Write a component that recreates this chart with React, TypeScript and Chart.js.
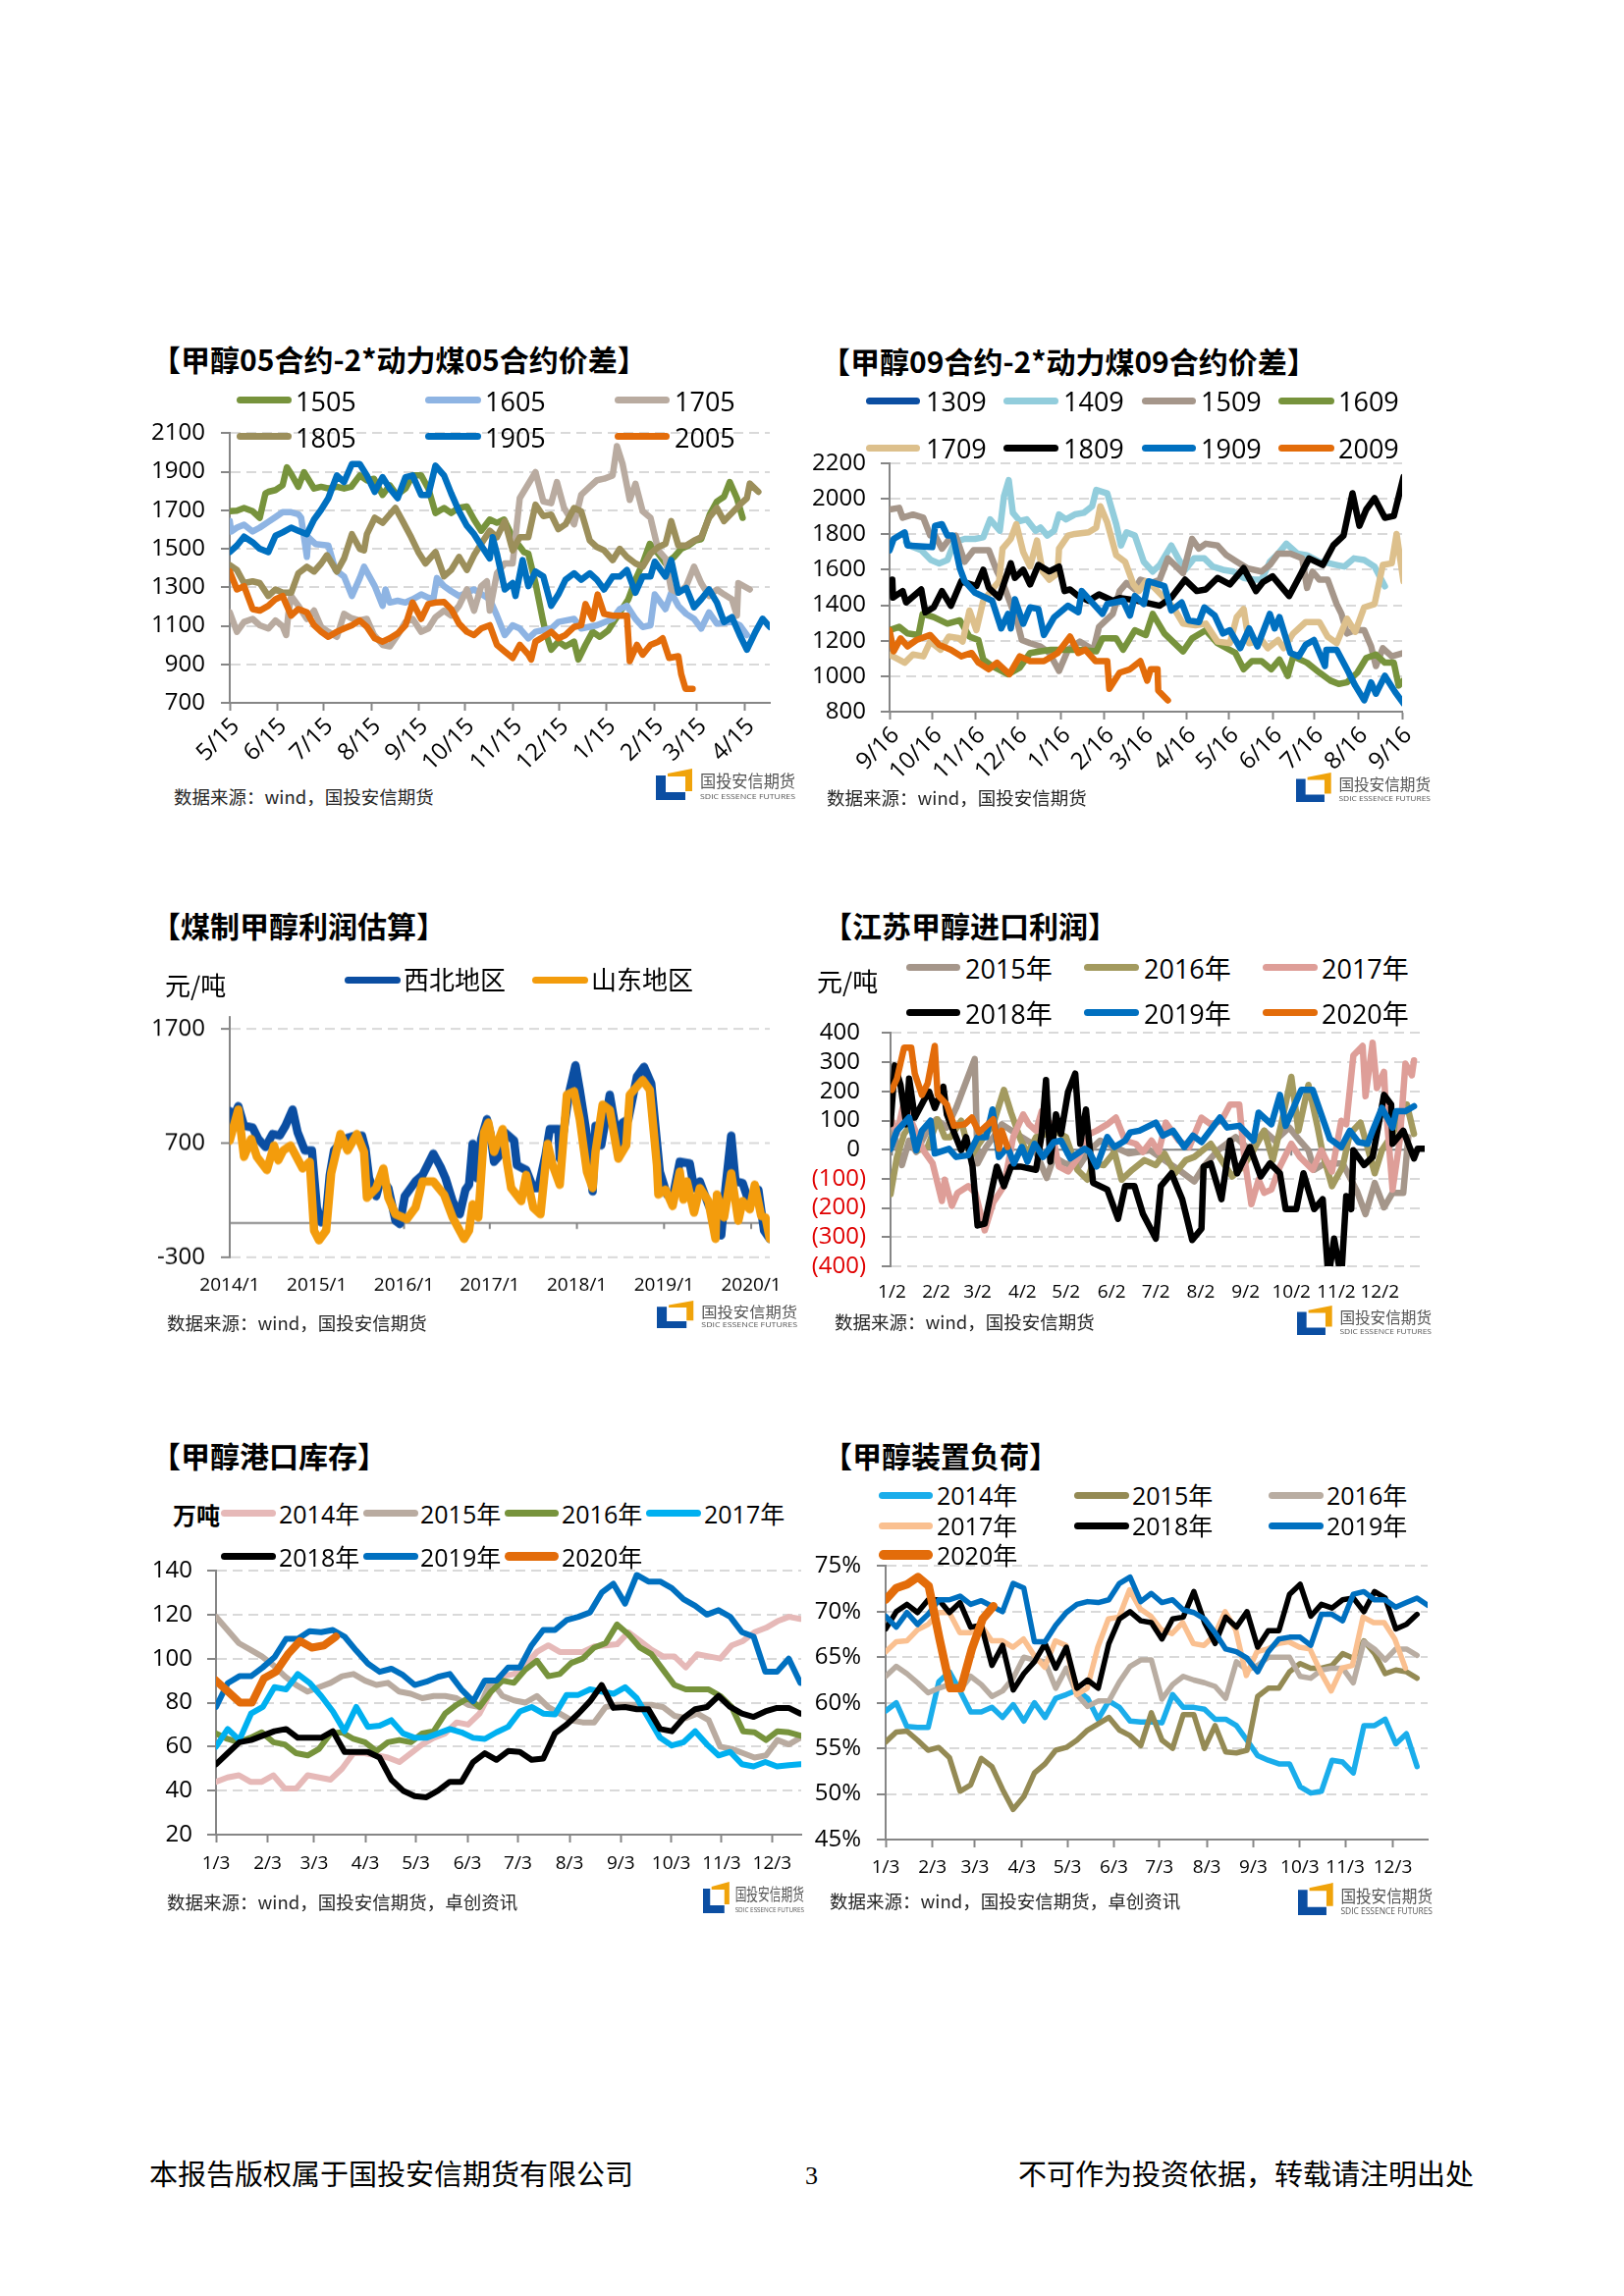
import React, { useEffect, useRef } from 'react';
import { Chart, registerables } from 'chart.js';
Chart.register(...registerables);

type Pt = [number, number];
const FONT = '"Open Sans","Noto Sans CJK SC",sans-serif';
const CJK = '"Noto Sans CJK SC","Open Sans",sans-serif';
const AXIS = '#868686';
const GRID = '#d9d9d9';

// ---------- chart 1: methanol 05 minus 2x thermal coal 05 ----------
const c1Labels = ['5/15','6/15','7/15','8/15','9/15','10/15','11/15','12/15','1/15','2/15','3/15','4/15'];
const c1Ticks = [0,33,65.5,99,132,164.5,198,230.5,263.5,297,327,360.5];
const c1YTicks = [700,900,1100,1300,1500,1700,1900,2100];
const s1505: Pt[] = [[0,1695],[5,1698],[10,1712],[16,1695],[21,1661],[25,1788],[27,1796],[32,1805],[37,1830],[40,1923],[43,1889],[48,1822],[52,1898],[59,1813],[64,1822],[69,1813],[75,1822],[80,1813],[85,1822],[91,1881],[96,1855],[101,1864],[107,1780],[112,1830],[117,1780],[123,1813],[128,1881],[134,1881],[139,1813],[144,1686],[150,1712],[155,1686],[160,1712],[166,1720],[171,1652],[176,1594],[182,1652],[187,1635],[192,1652],[198,1560],[206,1483],[209,1475],[214,1322],[219,1136],[221,1069],[225,976],[230,1018],[235,993],[241,1018],[244,925],[249,1001],[254,1069],[259,1043],[265,1077],[279,1238],[284,1339],[289,1424],[294,1526],[300,1475],[305,1424],[311,1458],[316,1500],[321,1517],[326,1543],[330,1550],[336,1678],[341,1746],[346,1771],[350,1847],[355,1763],[359,1661]];
const s1605: Pt[] = [[0,1644],[1,1590],[5,1610],[10,1625],[16,1590],[21,1610],[27,1640],[32,1665],[37,1690],[43,1690],[48,1680],[50,1661],[54,1458],[55,1560],[60,1525],[69,1517],[74,1390],[80,1356],[85.5,1255],[91,1348],[94,1407],[101.5,1306],[107,1204],[109,1289],[112,1221],[117.5,1230],[123,1221],[128,1238],[134,1263],[139,1246],[142.5,1238],[145,1348],[150,1306],[155,1280],[160.5,1255],[171,1289],[182,1238],[187,1153],[192.5,1052],[198,1103],[203,1086],[209,1035],[214,1069],[225,1086],[230,1120],[241,1136],[246,1086],[257,1103],[268,1136],[273,1187],[278,1204],[284,1136],[289,1094],[294.5,1103],[297.5,1263],[305,1187],[309,1272],[314,1204],[319.5,1162],[325,1136],[330,1086],[335.5,1170],[341,1111],[351.5,1120],[357,1103],[362,1052]];
const s1705: Pt[] = [[0,1170],[5,1069],[10,1120],[16,1136],[21,1103],[27,1086],[32,1128],[37,1098],[39.5,1052],[41,1160],[43,1255],[48,1204],[54,1136],[59,1179],[64,1094],[69,1069],[75,1043],[80,1162],[85,1140],[91,1128],[96,1136],[101,1052],[107,1001],[112,993],[117.5,1052],[123,1120],[128,1136],[134,1069],[139,1086],[144,1145],[150,1179],[155,1153],[160.5,1204],[166,1289],[171,1179],[176,1306],[180,1331],[182,1179],[187,1373],[192.5,1424],[198,1424],[203,1763],[214,1898],[219.5,1746],[225,1737],[229,1847],[234,1712],[241,1627],[246,1780],[252,1822],[257,1856],[262,1864],[268,1881],[271,2033],[275,1940],[280,1754],[284,1838],[289,1695],[294.5,1661],[300,1492],[305,1450],[309,1289],[314,1272],[319.5,1306],[325,1407],[330,1322],[335.5,1255],[341,1289],[346,1263],[351.5,1238],[355,1153],[356,1322],[364,1289]];
const s1805: Pt[] = [[0,1416],[5,1390],[10,1322],[16,1331],[21,1322],[27,1255],[32,1289],[37,1272],[43,1272],[48,1373],[54,1407],[59,1382],[64,1424],[68,1467],[75,1382],[80,1450],[85.5,1576],[91,1500],[94,1492],[96,1576],[101.5,1661],[107,1635],[112,1678],[116,1712],[121,1644],[127,1560],[132,1483],[137,1424],[144,1483],[150,1357],[155,1390],[160.5,1458],[166,1390],[171,1467],[176,1526],[182,1594],[187,1560],[192.5,1644],[198,1492],[203,1560],[209,1560],[214,1729],[219.5,1670],[225,1678],[230,1602],[235,1627],[241,1712],[246,1695],[252,1543],[257,1509],[262,1492],[268,1441],[273,1500],[278,1458],[284,1424],[289,1407],[294.5,1475],[300,1509],[305,1526],[309,1644],[314,1517],[319.5,1517],[325,1543],[330,1560],[335.5,1661],[341,1712],[346,1644],[351.5,1686],[357,1729],[362,1763],[364,1839],[370,1796]];
const s1905: Pt[] = [[0,1483],[5,1517],[10,1563],[16,1534],[21,1500],[27,1483],[32,1568],[37,1585],[43,1610],[48,1594],[54,1576],[59,1652],[64,1703],[69,1763],[75,1881],[80,1847],[85.5,1940],[91,1940],[96,1881],[101.5,1796],[107,1872],[112,1813],[117.5,1763],[123,1872],[128,1881],[134,1780],[139,1780],[144,1932],[150,1881],[155,1788],[160.5,1695],[166,1619],[171,1576],[176,1517],[182,1450],[184,1560],[187,1475],[192.5,1289],[198,1322],[200,1255],[205,1441],[209,1306],[214,1382],[219.5,1356],[225,1204],[230,1263],[235,1339],[241,1373],[246,1339],[252,1373],[257,1339],[262,1289],[268,1356],[273,1356],[278,1390],[284,1272],[289,1356],[294.5,1356],[297.5,1433],[305,1356],[309,1441],[314,1272],[319.5,1297],[325,1196],[330,1238],[335.5,1289],[341,1221],[346,1120],[351.5,1145],[357,1052],[362,976],[368,1069],[373,1137],[378,1094]];
const s2005: Pt[] = [[0,1382],[5,1289],[10,1306],[16,1187],[21,1179],[27,1204],[32,1238],[37,1255],[43,1153],[48,1187],[54,1170],[59,1103],[64,1069],[69,1043],[75,1069],[80,1086],[85.5,1103],[91,1128],[96,1094],[101.5,1035],[107,1018],[112,1035],[117.5,1060],[123,1103],[128,1221],[134,1136],[139,1213],[144,1221],[150,1224],[155,1187],[160.5,1111],[166,1069],[171,1052],[176,1086],[182,1103],[187,1001],[192.5,967],[198,933],[203,1001],[209,950],[211,925],[214,1018],[219.5,1043],[225,1069],[230,1035],[235,1052],[241,1094],[246,1103],[249,1213],[254,1136],[257.5,1263],[262,1162],[268,1153],[273,1153],[278,1153],[280,917],[285,1001],[289,950],[294.5,1001],[300,1018],[303,1035],[307.5,933],[314,942],[316,849],[319,773],[324,773]];

// ---------- chart 2: methanol 09 minus 2x thermal coal 09 ----------
const c2Labels = ['9/16','10/16','11/16','12/16','1/16','2/16','3/16','4/16','5/16','6/16','7/16','8/16','9/16'];
const c2Ticks = [0,31,62.5,93,124.5,156,184.5,215.5,246.5,278,308,340,372];
const c2YTicks = [800,1000,1200,1400,1600,1800,2000,2200];
const s1309: Pt[] = [];
const s1409: Pt[] = [[12,1756],[17,1728],[23,1710],[30,1655],[36,1636],[42,1655],[47,1756],[54.5,1774],[62,1774],[68,1783],[73,1884],[80,1820],[83,2013],[86.5,2105],[89.5,1921],[94.5,1875],[99.5,1884],[106,1820],[109.5,1838],[114.5,1793],[119.5,1820],[123,1912],[128,1884],[134.5,1912],[141,1921],[147,1958],[150,2050],[158,2031],[164.5,1857],[168,1737],[172,1811],[178,1793],[184.5,1645],[191,1590],[196,1627],[204.5,1737],[209.5,1664],[214.5,1600],[221,1664],[228.5,1664],[234.5,1618],[242,1600],[249.5,1590],[257,1554],[264.5,1544],[270,1544],[276,1645],[282,1691],[288,1747],[296,1691],[303,1682],[312,1645],[317,1640],[324.5,1627],[330,1618],[337,1664],[344.5,1655],[352,1618],[359.5,1507]];
const s1509: Pt[] = [[0,1940],[7,1949],[9.5,1893],[17,1911],[24.5,1893],[29.5,1793],[33,1793],[38,1719],[43,1770],[48,1793],[54.5,1645],[61,1710],[67,1710],[72,1710],[78,1590],[82,1530],[87,1425],[93,1296],[96,1204],[102,1186],[109.5,1168],[116,1131],[123,1030],[129.5,1149],[138,1195],[148,1149],[152,1278],[162,1351],[167,1480],[172,1526],[178,1490],[182,1544],[190,1525],[196,1544],[202,1664],[207,1627],[213,1581],[219.5,1774],[224.5,1719],[229.5,1747],[238,1737],[244.5,1682],[252,1645],[259.5,1609],[270,1590],[276,1627],[282,1691],[291,1691],[299.5,1664],[303,1498],[307,1590],[312,1544],[318,1544],[324.5,1407],[328,1351],[332,1241],[338,1259],[344.5,1259],[349.5,1168],[353,1057],[358,1158],[364.5,1112],[373,1131]];
const s1609: Pt[] = [[0,1259],[7,1278],[13,1241],[21,1232],[24,1351],[32,1333],[42,1296],[51,1315],[58,1223],[64.5,1204],[68,1094],[74.5,1057],[86,1011],[94.5,1048],[102,1131],[109.5,1140],[117,1149],[137,1149],[150,1140],[154.5,1213],[164.5,1213],[169.5,1149],[178,1259],[186,1232],[191,1351],[199.5,1241],[213,1140],[219.5,1213],[229.5,1259],[238,1186],[251,1131],[257,1039],[263,1085],[270,1085],[277,1039],[283,1094],[289,1002],[293,1112],[303,1076],[312,1020],[320,975],[326,956],[332,965],[339.5,1020],[346,1103],[353,1122],[359.5,1076],[366,1076],[369.5,947],[373,975]];
const s1709: Pt[] = [[0,1122],[11,1076],[17,1122],[24.5,1112],[29.5,1195],[37,1149],[43,1223],[50,1215],[53,1195],[58,1370],[63,1260],[68,1425],[74.5,1489],[79.5,1535],[82,1719],[88,1774],[92,1857],[97,1700],[102,1618],[107,1765],[111,1590],[116,1544],[122,1581],[123,1719],[129.5,1793],[134.5,1802],[144.5,1811],[150,1838],[153,1958],[158,1866],[164.5,1682],[171,1645],[177,1517],[181,1480],[186,1535],[192,1500],[206,1388],[213,1296],[222,1287],[229.5,1296],[238,1195],[247,1186],[252,1333],[257,1379],[261,1186],[270,1204],[274.5,1158],[282,1204],[286,1158],[293,1241],[302,1305],[312,1305],[318,1223],[324.5,1186],[332,1324],[338,1250],[344.5,1388],[352,1407],[358,1627],[364.5,1636],[368,1802],[373,1535]];
const s1809: Pt[] = [[2,1544],[2.5,1443],[9.5,1480],[12,1416],[23,1489],[26,1360],[32,1388],[38,1480],[44.5,1397],[52,1535],[63,1508],[68,1600],[72,1498],[79.5,1443],[88,1636],[91,1554],[97,1600],[102,1517],[108,1627],[116,1590],[123,1618],[127,1480],[131,1489],[137,1452],[144.5,1425],[152,1461],[162,1425],[167,1440],[177,1430],[196,1397],[204.5,1443],[214.5,1544],[223,1480],[229.5,1489],[238,1554],[247,1517],[257,1609],[266,1480],[271,1530],[278,1563],[290,1452],[297,1554],[304.5,1664],[314.5,1627],[322,1737],[329.5,1793],[336,2031],[341,1848],[346,1940],[352,2004],[359.5,1893],[366,1903],[373,2123]];
const s1909: Pt[] = [[0,1710],[3,1774],[11,1811],[13,1737],[31,1728],[33,1848],[38,1857],[42,1793],[46,1793],[51,1609],[54.5,1535],[62,1471],[74.5,1425],[81,1269],[86,1351],[88,1269],[91,1434],[97,1296],[102,1388],[108,1379],[112,1232],[119.5,1333],[129.5,1397],[137,1361],[139.5,1480],[154.5,1351],[158,1407],[169.5,1425],[174.5,1342],[178,1452],[184.5,1407],[188,1535],[199.5,1508],[204.5,1370],[212,1416],[217,1315],[224.5,1305],[228.5,1388],[236,1342],[242,1241],[247,1259],[254.5,1158],[261,1269],[267,1168],[276,1351],[279.5,1269],[283,1333],[291,1131],[297,1112],[302,1177],[308,1204],[316,1057],[317,1149],[324.5,1149],[332,1039],[338,947],[344.5,864],[349.5,965],[353,901],[359.5,1002],[367,910],[373,846]];
const s2009: Pt[] = [[0,1259],[3,1140],[8,1213],[13,1168],[19.5,1204],[29.5,1232],[36,1177],[44.5,1149],[52,1112],[59.5,1131],[64.5,1076],[72,1039],[78,1076],[87,1011],[94.5,1112],[102,1085],[112,1085],[122,1131],[131,1223],[137,1131],[142,1149],[149.5,1085],[158,1085],[159.5,929],[167,1020],[174.5,1039],[182,1085],[187,975],[189.5,1039],[194.5,1039],[195,919],[202,864]];

// ---------- chart 3: coal-to-methanol profit ----------
const c3Labels = ['2014/1','2015/1','2016/1','2017/1','2018/1','2019/1','2020/1'];
const c3Ticks = [0,61,122,182,243,304,365];
const c3YTicks = [-300,700,1700];
const northwest: Pt[] = [[0,980],[1,880],[6,1023],[10,851],[16,837],[20,736],[25,665],[30,779],[35,765],[39,851],[44,994],[47.5,794],[52.5,636],[57.5,636],[59,421],[61,135],[64,6],[67.5,77],[70,421],[73,636],[80,736],[87.5,765],[92.5,765],[95,650],[97.5,393],[102.5,235],[106,393],[111,306],[116,20],[119,-9],[122.5,235],[130,364],[135,421],[142.5,607],[147.5,493],[151,393],[156,192],[161,77],[165,292],[167.5,335],[170,693],[173,393],[176,736],[180,908],[182.5,779],[185,536],[189,593],[192.5,794],[199,722],[201,507],[207.5,464],[212.5,306],[216,306],[221,593],[224,822],[230,822],[231,564],[237.5,1137],[242,1381],[245,1166],[250,765],[254,278],[256,851],[260,680],[266,1123],[272,679],[275,880],[279,908],[285,1281],[290,1367],[295,1223],[299,708],[301,450],[306,249],[310,221],[315,536],[322,521],[325,306],[329,364],[335,163],[339,49],[344,-109],[347,306],[351,765],[354,364],[359,350],[364,163],[370,292],[374,-66],[378,-138]];
const shandong: Pt[] = [[0,722],[6,994],[10,579],[15,736],[19,579],[26,464],[31,679],[34,550],[37.5,636],[42.5,679],[51,478],[56,536],[59,-66],[62.5,-152],[67.5,-66],[71,435],[77.5,779],[82.5,636],[89,779],[94,622],[96,221],[102.5,306],[107.5,478],[111,221],[116,77],[124,34],[130,135],[135,364],[142.5,364],[150,249],[156,49],[164,-138],[167.5,-66],[170,163],[174,49],[178,794],[181,880],[185,622],[191,822],[194,536],[197,306],[204,192],[207.5,421],[212.5,135],[217.5,77],[222.5,693],[226,507],[231,335],[236,1123],[241,1152],[245,908],[250,450],[254,306],[256,622],[261,1037],[266,990],[272,564],[277.5,679],[280,1123],[289,1252],[294,1166],[299,507],[300,249],[305,292],[310,149],[315,450],[317.5,206],[320,364],[325,92],[329,306],[335,192],[340,-138],[341,249],[346,49],[351,435],[356,20],[359,192],[364,120],[367.5,335],[372,60],[375,49],[378,-138]];

// ---------- chart 4: Jiangsu methanol import profit ----------
const c4Labels = ['1/2','2/2','3/2','4/2','5/2','6/2','7/2','8/2','9/2','10/2','11/2','12/2'];
const c4Ticks = [1,32,61,92.5,123,155,186,217.5,249,281,312.5,343];
const c4YTicks = [-400,-300,-200,-100,0,100,200,300,400];
const y15: Pt[] = [[2,65],[8,-53],[13,31],[18,-8],[24.5,54],[32,104],[39.5,76],[46,143],[59,311],[61,-47],[67,9],[72,43],[78,87],[92,43],[99.5,20],[109.5,-97],[114.5,-25],[122,-47],[132,-58],[139.5,-2],[147,31],[157,9],[167,-13],[182,-2],[192,-36],[202,-69],[213,-109],[219.5,-58],[229.5,-2],[242,43],[252,-2],[262,65],[269.5,31],[279.5,76],[287,31],[293,-2],[297,-69],[304.5,-47],[317,-47],[327,-142],[333,-221],[339.5,-114],[346,-198],[352,-148],[359.5,-148],[363,43]];
const y16: Pt[] = [[0,-153],[4.5,-25],[9.5,54],[14.5,87],[19.5,-2],[26,9],[33,104],[38,43],[42,43],[49.5,99],[56,-25],[62,20],[67,54],[72,87],[79.5,205],[84.5,127],[91,37],[96,-13],[102,43],[109.5,54],[117,59],[123,43],[131,-69],[138,-103],[142,-47],[149.5,-53],[157,-8],[162,-103],[169.5,-69],[178,-36],[186,-53],[192,-13],[199.5,-81],[207,-36],[213,-25],[224.5,20],[232,-36],[239.5,-92],[247,-58],[254.5,-2],[262,65],[268,-36],[274.5,99],[281,250],[286,65],[293,222],[299.5,76],[303,-13],[309.5,-125],[317,-58],[322,54],[329.5,93],[335,-2],[339.5,-81],[344.5,-2],[352,54],[362,155],[367,54]];
const y17: Pt[] = [[0,110],[4.5,54],[9.5,166],[14.5,99],[23,-2],[29.5,-47],[36,-176],[38,-103],[43,-193],[47,-148],[54.5,-125],[59.5,-148],[66,-277],[72,-181],[79.5,-125],[86,43],[93,121],[97,87],[102,65],[106,132],[112,87],[118,-58],[124.5,-75],[132,-25],[139.5,54],[144.5,65],[152,87],[158,110],[164.5,31],[172,20],[177,-8],[183,31],[188,-8],[193,93],[202,31],[209.5,9],[218,110],[224.5,87],[232,99],[238,155],[244.5,155],[248,-25],[253,-187],[258,-103],[262,-148],[267,-137],[273,-58],[281,20],[287,-25],[296,-69],[302,-2],[309.5,-75],[316,99],[319.5,87],[324.5,323],[331,356],[333,183],[338,367],[341,211],[346,267],[347,166],[352,-137],[357,31],[361,295],[365.5,255],[367,306]];
const y18: Pt[] = [[0,87],[3,289],[7,222],[11,87],[13,244],[17,110],[23,166],[27,199],[31,143],[37,216],[39.5,121],[49.5,-2],[53,43],[57.5,-58],[61,-260],[66,-254],[71,-137],[74.5,-58],[79.5,-125],[84.5,-58],[91,-58],[102,-69],[106,54],[109,239],[112,-41],[116,121],[119.5,54],[124.5,199],[129.5,261],[133,20],[137,138],[142,-114],[152,-137],[159.5,-237],[164.5,-125],[171,-125],[177,-221],[186,-305],[189.5,-125],[197,-81],[204.5,-170],[211.5,-310],[218,-271],[219.5,-58],[224.5,-47],[232,-170],[238,31],[243,-81],[252,9],[259.5,-92],[266,-47],[273,-81],[277,-204],[284.5,-204],[289.5,-81],[297,-204],[303,-170],[307,-440],[311,-305],[316,-440],[319.5,-159],[323,-204],[324.5,-2],[332,-53],[338,-25],[346,188],[351,155],[352,20],[359.5,65],[367,-30],[369.5,3],[374,3]];
const y19: Pt[] = [[0,3],[4.5,65],[13,110],[18,-2],[22,65],[28,99],[31,-13],[41,3],[46,-25],[54.5,-19],[61,43],[67,43],[71.5,138],[76,-25],[82,9],[86.5,-47],[92,9],[96,-41],[101,20],[107,-25],[114.5,26],[119.5,31],[126,-30],[136,3],[139.5,-8],[144.5,-58],[152,43],[157,9],[164.5,31],[168,59],[174.5,65],[186,93],[191,48],[198,65],[206,9],[212,48],[218,26],[231,110],[236,76],[244.5,82],[254.5,31],[258,127],[267,87],[273,188],[277,82],[284.5,166],[288,205],[296,205],[302,121],[308,37],[316,9],[322,65],[328,26],[334.5,20],[338,65],[344.5,143],[352,76],[354.5,132],[361,132],[367,149]];
const y20: Pt[] = [[1,205],[4.5,244],[9.5,350],[14.5,350],[17,261],[22,188],[26,227],[31,356],[33,188],[39.5,155],[44.5,82],[52,87],[57,110],[62,59],[72,104],[76,3],[78,65],[82,9]];

// ---------- chart 5: methanol port inventory (weekly) ----------
const c5Labels = ['1/3','2/3','3/3','4/3','5/3','6/3','7/3','8/3','9/3','10/3','11/3','12/3'];
const c5Ticks = [0,4.43,8.43,12.83,17.17,21.6,25.93,30.37,34.77,39.1,43.43,47.77];
const c5YTicks = [20,40,60,80,100,120,140];
const inv14 = [44,46,47,44,44,47,41,41,47,46,45,50,57,57,56,55,53,57,61,64,66,71,70,75,85,92,93,97,103,106,103,103,103,105.5,106,106.5,112,108,104,101,101,96,102,101,100,106,108,112,114,117,119,118];
const inv15 = [119,113,107,104,101,97,92,88,85,87,89,92,93,90,88,89,85,84,82,83,83,82,79,78,90,83,81,80,83,78,75,72,71,71,78,79,79,79,79,78,74,73,75,72,60,59,57,55,56,63,61,64];
const inv16 = [66,63.5,62,64,66.5,62,61,57,56,59,66,66.5,63.5,62,58,62,63,62,66,67,75,79,82,78,85,90,89,95,99,92,93,98,100,105,107,115.5,111,105,102,95,88,86,86,86,83,78,67,66.5,63,67,66.5,65];
const inv17 = [60,68,63,75,78,87,86,93,89,83,76,67,78,69,69.5,72,66,64,64,66,68,66.5,64,63.5,66.5,69,76,78,75,74.6,83.5,83.5,86,85,84,87,82,73,64,60.5,62,67,61,56,57.6,52,51,53,51,51.6,52];
const inv18 = [52,57,62,63,65,67,68,64,64,64,67,57.6,57.6,57.6,55,45,40,37.5,37,40,44,44,53,57,54,58,57.6,54,54.6,66,70,75,80.6,88,77.6,78,77,77,68,67,73,77,78,83,78,75,73.5,76,77.6,77.6,75];
const inv19 = [78,88.8,92,92,96,100.6,109,109,112.5,112,113,110,103.6,97.7,94,95.4,92.5,88,89.5,91.7,93,86,80.6,90,90,96,96,106,113,113,117.5,119,121,130,134,125,138,135,135,132,127,124,120,122,119,112,110,94,94,100,89];
const inv20 = [90,85,80,80,91,94,102,108,105,106,110];

// ---------- chart 6: methanol plant operating rate (weekly, percent) ----------
const c6Labels = ['1/3','2/3','3/3','4/3','5/3','6/3','7/3','8/3','9/3','10/3','11/3','12/3'];
const c6Ticks = [0,4.43,8.45,12.9,17.2,21.6,25.9,30.4,34.8,39.2,43.5,48];
const c6YTicks = [45,50,55,60,65,70,75];
const op14 = [59.1,60,57.4,57.3,57.3,62.3,63.4,61.3,59,59,59.5,58.4,59.8,58,60,58.4,60.5,60.9,61.4,60.5,58.2,60.2,59.5,58,57.9,57.9,57.8,60.9,59.5,59.5,59.3,58.2,58.2,57.5,55.9,54.2,53.7,53.3,53.3,50.8,50.1,50.3,53.7,53.5,52.3,57.5,57.5,58.2,55.5,56.6,53];
const op15 = [55.7,56.8,56.9,55.9,54.8,55.1,54,50.3,51,53.9,53,50.5,48.3,49.7,52.3,53.3,54.8,55.1,55.9,57,57.7,58.4,57,56.4,55.3,58.9,55.9,55,58.7,58.7,55,57.5,54.6,54.5,54.8,60.7,61.6,61.6,63.4,64.3,63.8,63.8,64.1,65.4,64.9,66.8,65.4,63.2,63.6,63.4,62.7];
const op16 = [62.9,64,63.2,62.2,61.1,61.6,62,61.4,62.9,62,60.7,61.3,62.7,65,64.7,64.5,61.6,63.8,60.9,59.6,60.2,60.2,62.3,64,64.7,64.7,60.4,62,62.9,62.5,62.2,61.8,60.5,64.5,63.6,64.1,65,65,65,62.9,62.7,63.6,63.8,63.8,62.2,66.7,65.9,64.7,65.9,65.9,65.2];
const op17 = [65.6,66.7,66.8,68,68.6,69.9,69.9,67.7,67.7,68.5,66.8,66.8,66.1,67,65.2,63.9,66.8,66.3,60.9,61.6,66.1,69.2,69.4,72.4,70.3,69.5,68,67.6,68.8,66.5,66.3,67.4,70,68,63,65.6,65.9,66.5,66.7,66.1,65.9,63.4,61.3,63.8,64.1,69.4,68.8,68.8,67,63.8];
const op18 = [68.1,70,70.8,69.9,71.3,71.3,69.9,71,68.3,68.5,64.1,66.3,61.4,63.2,64.5,66.5,63.8,66.1,61.6,62.5,61.6,66.5,69.2,70,69,68.8,67,69.2,69.4,72.2,68.8,66.5,69.4,68.3,70,66.1,67.9,67.9,71.9,73,69.5,70.8,70.4,71.3,71.5,70,72.2,71.5,68.1,68.6,69.7];
const op19 = [69.5,68.3,69.9,68.6,69.7,71.3,71.3,71.7,70.8,71.2,70.6,70,73.1,72.6,66.7,66.7,68.5,69.9,70.8,71.1,71,71.3,73.1,73.8,71.1,72,71,71.3,70.2,69.9,69.2,67.7,65.9,65.6,64.9,63.4,65.6,67,67.2,67.2,66.3,69.7,69.7,69,71.9,72.2,71.3,71.3,70.5,71,71.5,70.7];
const op20 = [71.3,72.6,73,73.8,72.8,67,61.6,61.6,65.9,69.2,70.6];

const weekly = (values: number[], end: number): Pt[] =>
  values.map((v, i) => [(i * end) / (values.length - 1), v] as Pt);

// ---------- specs ----------
type Series = { name: string; color: string; data: Pt[]; width?: number };
type Spec = {
  plot: { left: number; right: number; top: number; bottom: number };
  xMax: number; xTicks: number[]; xLabels: string[]; yMin: number; yMax: number; yTicks: number[];
  series: Series[]; lineWidth: number; rotate?: number; xFont: number; yPad: number; xPad: number;
  xAxisAtZero?: boolean; yFmt?: (v: number) => string; redNegative?: boolean;
  title: string; titleX: number; titleY: number;
  legendRows: number[]; legendCols: number[][]; legendFont: number;
  unit?: { text: string; x: number; y: number; bold?: boolean };
  source: string; sourceX: number; sourceY: number;
  logo: [number, number, number, number];
};

const SRC1 = '数据来源：wind，国投安信期货';
const SRC2 = '数据来源：wind，国投安信期货，卓创资讯';

const specs: Spec[] = [
  {
    plot: { left: 234, right: 784, top: 440.6, bottom: 716.4 }, xMax: 378, xTicks: c1Ticks, xLabels: c1Labels,
    yMin: 700, yMax: 2100, yTicks: c1YTicks, lineWidth: 6.5, rotate: 45, xFont: 24, yPad: 16, xPad: 2,
    series: [
      { name: '1505', color: '#77933C', data: s1505 }, { name: '1605', color: '#8EB4E3', data: s1605 },
      { name: '1705', color: '#B9ABA0', data: s1705 }, { name: '1805', color: '#9C8F5B', data: s1805 },
      { name: '1905', color: '#0070C0', data: s1905 }, { name: '2005', color: '#E36C0A', data: s2005 },
    ],
    title: '【甲醇05合约-2*动力煤05合约价差】', titleX: 154, titleY: 365,
    legendRows: [407.5, 444.5], legendCols: [[241, 297, 301], [433, 490, 494], [626, 682, 687]], legendFont: 27,
    source: SRC1, sourceX: 177, sourceY: 811, logo: [668, 783, 142, 32],
  },
  {
    plot: { left: 906, right: 1428, top: 471.7, bottom: 725 }, xMax: 372, xTicks: c2Ticks, xLabels: c2Labels,
    yMin: 800, yMax: 2200, yTicks: c2YTicks, lineWidth: 6.5, rotate: 45, xFont: 24, yPad: 15, xPad: 2,
    series: [
      { name: '1309', color: '#0B4EA2', data: s1309 }, { name: '1409', color: '#92CDDC', data: s1409 },
      { name: '1509', color: '#A5968A', data: s1509 }, { name: '1609', color: '#77933C', data: s1609 },
      { name: '1709', color: '#DDC08C', data: s1709 }, { name: '1809', color: '#000000', data: s1809 },
      { name: '1909', color: '#0070C0', data: s1909 }, { name: '2009', color: '#E36C0A', data: s2009 },
    ],
    title: '【甲醇09合约-2*动力煤09合约价差】', titleX: 836, titleY: 367,
    legendRows: [408, 456], legendCols: [[882, 937, 943], [1022, 1078, 1083], [1163, 1218, 1223], [1302, 1359, 1363]], legendFont: 27,
    source: SRC1, sourceX: 842, sourceY: 812, logo: [1320, 787, 137, 30],
  },
  {
    plot: { left: 234, right: 784, top: 1036, bottom: 1280.7 }, xMax: 378, xTicks: c3Ticks, xLabels: c3Labels,
    yMin: -300, yMax: 1800, yTicks: c3YTicks, lineWidth: 8.5, xFont: 19, yPad: 16, xPad: 17, xAxisAtZero: true,
    series: [{ name: '西北地区', color: '#0B4EA2', data: northwest }, { name: '山东地区', color: '#F39C0C', data: shandong }],
    title: '【煤制甲醇利润估算】', titleX: 154, titleY: 941.5,
    legendRows: [998], legendCols: [[351, 408, 411], [542, 599, 602]], legendFont: 26,
    unit: { text: '元/吨', x: 168, y: 1003 },
    source: SRC1, sourceX: 170, sourceY: 1347, logo: [669, 1325, 143, 28],
  },
  {
    plot: { left: 906.6, right: 1451, top: 1051.7, bottom: 1290 }, xMax: 374.5, xTicks: c4Ticks, xLabels: c4Labels,
    yMin: -400, yMax: 400, yTicks: c4YTicks, lineWidth: 6.5, xFont: 19, yPad: 16, xPad: 15, xAxisAtZero: true,
    redNegative: true, yFmt: (v) => (v < 0 ? `(${-v})` : `${v}\u2005`),
    series: [
      { name: '2015年', color: '#A5968A', data: y15 }, { name: '2016年', color: '#A39A5F', data: y16 },
      { name: '2017年', color: '#DE9E98', data: y17 }, { name: '2018年', color: '#000000', data: y18 },
      { name: '2019年', color: '#0070C0', data: y19 }, { name: '2020年', color: '#E36C0A', data: y20 },
    ],
    title: '【江苏甲醇进口利润】', titleX: 838, titleY: 941.5,
    legendRows: [985.5, 1031.5], legendCols: [[923, 978, 983], [1104, 1160, 1165], [1286, 1342, 1346]], legendFont: 27,
    unit: { text: '元/吨', x: 832, y: 999 },
    source: SRC1, sourceX: 850, sourceY: 1346, logo: [1321, 1330, 137, 30],
  },
  {
    plot: { left: 220, right: 816, top: 1600, bottom: 1869 }, xMax: 50.27, xTicks: c5Ticks, xLabels: c5Labels,
    yMin: 20, yMax: 140, yTicks: c5YTicks, lineWidth: 6, xFont: 19, yPad: 15, xPad: 10,
    series: [
      { name: '2014年', color: '#E6B9B8', data: weekly(inv14, 50.2) }, { name: '2015年', color: '#B9ABA0', data: weekly(inv15, 50.2) },
      { name: '2016年', color: '#77933C', data: weekly(inv16, 50.2) }, { name: '2017年', color: '#00B0F0', data: weekly(inv17, 50.2) },
      { name: '2018年', color: '#000000', data: weekly(inv18, 50.2) }, { name: '2019年', color: '#0070C0', data: weekly(inv19, 50.2) },
      { name: '2020年', color: '#E36C0A', data: weekly(inv20, 10.3), width: 8 },
    ],
    title: '【甲醇港口库存】', titleX: 154, titleY: 1481.5,
    legendRows: [1541.5, 1585.5], legendCols: [[225, 281, 284], [370, 426, 428], [514, 569, 572], [658, 714, 717]], legendFont: 25,
    unit: { text: '万吨', x: 176, y: 1543, bold: true },
    source: SRC2, sourceX: 170, sourceY: 1937, logo: [716, 1917, 103, 32],
  },
  {
    plot: { left: 902, right: 1454, top: 1595, bottom: 1874 }, xMax: 51.3, xTicks: c6Ticks, xLabels: c6Labels,
    yMin: 45, yMax: 75, yTicks: c6YTicks, lineWidth: 5.5, xFont: 19, yPad: 16, xPad: 9, yFmt: (v) => `${v}%`,
    series: [
      { name: '2014年', color: '#1AADEB', data: weekly(op14, 50.3) }, { name: '2015年', color: '#948A54', data: weekly(op15, 50.3) },
      { name: '2016年', color: '#B9ADA2', data: weekly(op16, 50.3) }, { name: '2017年', color: '#FAC090', data: weekly(op17, 49.2) },
      { name: '2018年', color: '#000000', data: weekly(op18, 50.3) }, { name: '2019年', color: '#0070C0', data: weekly(op19, 51.3) },
      { name: '2020年', color: '#E36C0A', data: weekly(op20, 10.2), width: 8.5 },
    ],
    title: '【甲醇装置负荷】', titleX: 838, titleY: 1481.5,
    legendRows: [1523, 1554, 1584], legendCols: [[895, 950, 954], [1094, 1150, 1153], [1292, 1348, 1351]], legendFont: 25,
    source: SRC2, sourceX: 845, sourceY: 1936, logo: [1322, 1918, 137, 33],
  },
];

const zeroAxisPlugin = {
  id: 'zeroAxis',
  beforeDatasetsDraw(chart: any) {
    const { ctx, chartArea, scales } = chart;
    const y0 = scales.y.getPixelForValue(0);
    ctx.save();
    ctx.strokeStyle = AXIS;
    ctx.lineWidth = 2;
    ctx.beginPath();
    ctx.moveTo(chartArea.left, y0);
    ctx.lineTo(chartArea.right, y0);
    scales.x.ticks.forEach((t: any) => {
      const x = scales.x.getPixelForValue(t.value);
      ctx.moveTo(x, y0);
      ctx.lineTo(x, y0 + 6);
    });
    ctx.stroke();
    ctx.restore();
  },
};

function ChartPanel({ spec }: { spec: Spec }) {
  const ref = useRef<HTMLCanvasElement>(null);
  const L = spec.plot.left - 100;
  const T = spec.plot.top - 30;
  const W = spec.plot.right + 40 - L;
  const H = spec.plot.bottom + 80 - T;
  useEffect(() => {
    const chart = new Chart(ref.current as HTMLCanvasElement, {
      type: 'line',
      data: {
        datasets: spec.series.map((s, i) => ({
          label: s.name,
          data: s.data.map(([x, y]) => ({ x, y })),
          borderColor: s.color,
          borderWidth: s.width ?? spec.lineWidth,
          pointRadius: 0,
          tension: 0,
          fill: false,
          borderCapStyle: 'round',
          borderJoinStyle: 'round',
          order: -i,
        })),
      },
      options: {
        animation: false,
        responsive: false,
        devicePixelRatio: 1,
        parsing: false,
        normalized: true,
        layout: {
          autoPadding: false,
          padding: { left: 0, bottom: 0, top: spec.plot.top - T, right: L + W - spec.plot.right },
        },
        plugins: { legend: { display: false }, title: { display: false }, tooltip: { enabled: false } },
        scales: {
          x: {
            type: 'linear',
            min: 0,
            max: spec.xMax,
            afterBuildTicks: (s: any) => { s.ticks = spec.xTicks.map((value) => ({ value })); },
            afterFit: (s: any) => { s.height = T + H - spec.plot.bottom; },
            ticks: {
              autoSkip: false,
              maxRotation: spec.rotate ?? 0,
              minRotation: spec.rotate ?? 0,
              padding: spec.xPad,
              labelOffset: spec.rotate ? 6 : 0,
              color: '#000',
              font: { family: FONT, size: spec.xFont },
              callback: (_v: any, i: number) => spec.xLabels[i],
            },
            border: { display: !spec.xAxisAtZero, color: AXIS, width: 2 },
            grid: {
              drawOnChartArea: false,
              drawTicks: !spec.xAxisAtZero,
              tickLength: 8,
              tickColor: AXIS,
              tickWidth: 2,
              color: AXIS,
            },
          },
          y: {
            type: 'linear',
            min: spec.yMin,
            max: spec.yMax,
            afterBuildTicks: (s: any) => { s.ticks = spec.yTicks.map((value) => ({ value })); },
            afterFit: (s: any) => { s.width = spec.plot.left - L; },
            ticks: {
              autoSkip: false,
              padding: spec.yPad,
              font: { family: FONT, size: 24 },
              color: (c: any) => (spec.redNegative && c.tick.value < 0 ? '#E00000' : '#000'),
              callback: (v: any) => (spec.yFmt ? spec.yFmt(Number(v)) : String(v)),
            },
            border: { color: AXIS, width: 2, dash: [10, 6] },
            grid: { color: GRID, lineWidth: 2, tickLength: 9, tickColor: AXIS, tickWidth: 2 },
          },
        },
      },
      plugins: spec.xAxisAtZero ? [zeroAxisPlugin] : [],
    } as any);
    return () => chart.destroy();
  }, []);
  return (
    <canvas
      ref={ref}
      width={W}
      height={H}
      style={{ position: 'absolute', left: L, top: T, width: W, height: H, display: 'block' }}
    />
  );
}

const abs = (x: number, y: number): React.CSSProperties => ({
  position: 'absolute', left: x, top: y, transform: 'translateY(-50%)', whiteSpace: 'nowrap', lineHeight: 1,
});

function Legend({ spec }: { spec: Spec }) {
  const nCols = spec.legendCols.length;
  return (
    <>
      {spec.series.map((s, i) => {
        const col = spec.legendCols[i % nCols];
        const y = spec.legendRows[Math.floor(i / nCols)];
        const thick = s.width ? s.width + 1 : 7;
        return (
          <React.Fragment key={s.name}>
            <div style={{ position: 'absolute', left: col[0], top: y - thick / 2, width: col[1] - col[0], height: thick, borderRadius: thick / 2, background: s.color }} />
            <div style={{ ...abs(col[2], y), fontFamily: FONT, fontSize: spec.legendFont, color: '#000' }}>{s.name}</div>
          </React.Fragment>
        );
      })}
    </>
  );
}

function Logo({ box }: { box: [number, number, number, number] }) {
  const [x, y, w, h] = box;
  return (
    <svg viewBox="0 0 142 32" preserveAspectRatio="none" width={w} height={h} style={{ position: 'absolute', left: x, top: y }}>
      <path d="M0 7H10V24H30V32H0Z" fill="#0B4EA2" />
      <path d="M12 5L37 0V23H30V8H12Z" fill="#F0A30A" />
      <text x="45" y="19" fontSize="17" fill="#555" fontFamily={CJK} textLength="97" lengthAdjust="spacingAndGlyphs">国投安信期货</text>
      <text x="45" y="31" fontSize="8" fill="#555" fontFamily={FONT} textLength="97" lengthAdjust="spacingAndGlyphs">SDIC ESSENCE FUTURES</text>
    </svg>
  );
}

export default function App() {
  return (
    <div style={{ position: 'absolute', left: 0, top: 0, width: 1654, height: 2339, background: '#fff', overflow: 'hidden' }}>
      {specs.map((spec) => (
        <React.Fragment key={spec.title}>
          <div style={{ ...abs(spec.titleX, spec.titleY), fontFamily: CJK, fontWeight: 700, fontSize: 30, color: '#000' }}>{spec.title}</div>
          <ChartPanel spec={spec} />
          <Legend spec={spec} />
          {spec.unit && (
            <div style={{ ...abs(spec.unit.x, spec.unit.y), fontFamily: CJK, fontSize: spec.unit.bold ? 24 : 26, fontWeight: spec.unit.bold ? 700 : 400, color: '#000' }}>{spec.unit.text}</div>
          )}
          <div style={{ ...abs(spec.sourceX, spec.sourceY), fontFamily: CJK, fontSize: 18.5, color: '#262626' }}>{spec.source}</div>
          <Logo box={spec.logo} />
        </React.Fragment>
      ))}
      <div style={{ ...abs(152, 2213), fontFamily: CJK, fontSize: 29, color: '#000' }}>本报告版权属于国投安信期货有限公司</div>
      <div style={{ ...abs(820, 2217), fontFamily: '"Liberation Serif",serif', fontSize: 26, color: '#000' }}>3</div>
      <div style={{ ...abs(1037, 2213), fontFamily: CJK, fontSize: 29, color: '#000' }}>不可作为投资依据，转载请注明出处</div>
    </div>
  );
}
